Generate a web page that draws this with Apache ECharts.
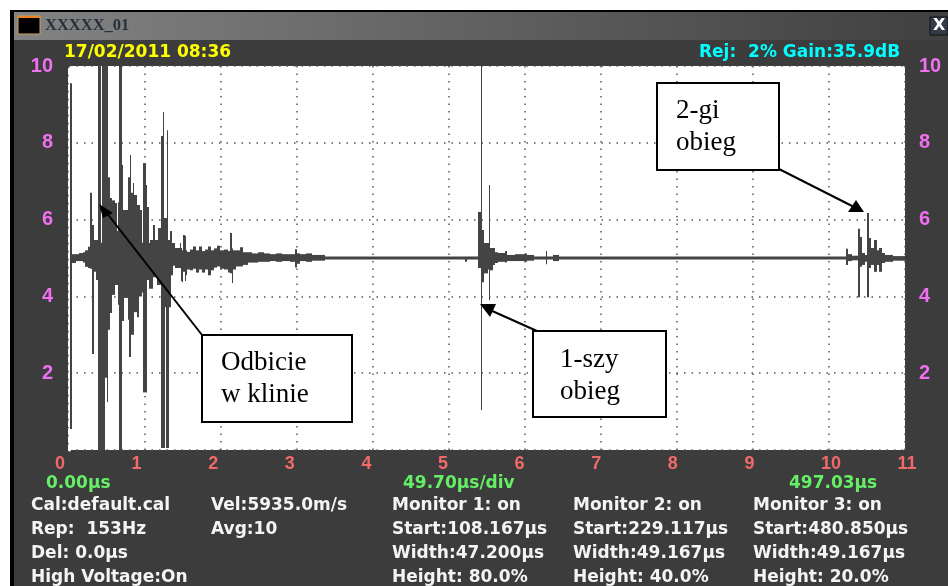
<!DOCTYPE html>
<html>
<head>
<meta charset="utf-8">
<title>XXXXX_01</title>
<script src="https://cdn.jsdelivr.net/npm/echarts@6/dist/echarts.min.js"></script>
<style>
    html, body { margin: 0; padding: 0; background: #fff; }
    #chart { width: 948px; height: 586px; }
</style>
</head>
<body>
<div id="chart"></div>
<script>
/* ========== 示波器波形 ========== */

// 每格 76 个采样，traceStart 是每一段的起始采样号
const samplesPerDiv = 76;
const traceEnd = 836;
const traceStart = [1, 3, 7, 10, 14, 16, 19, 21, 23, 25, 27, 29, 32, 33, 36, 38, 39, 41, 43, 46, 48, 49, 50, 53, 54, 55, 59, 60, 61, 62, 64, 65, 68, 70, 71, 73, 74, 77, 78, 80, 81, 84, 86, 88, 89, 92, 94, 95, 96, 97, 98, 99, 100, 101, 102, 103, 104, 106, 111, 112, 113, 114, 116, 117, 118, 121, 124, 127, 130, 133, 136, 139, 142, 145, 148, 151, 155, 159, 161, 163, 164, 167, 171, 174, 179, 183, 189, 195, 201, 207, 213, 221, 226, 228, 231, 237, 243, 256, 396, 398, 409, 412, 413, 415, 419, 420, 421, 424, 426, 429, 436, 438, 446, 456, 458, 465, 477, 478, 484, 490, 777, 779, 783, 789, 791, 793, 796, 798, 800, 802, 805, 808, 810, 813, 816, 824];
const traceHigh = [9.55, 5.1, 5.1, 5.13, 5.15, 5.2, 5.29, 6.7, 5.86, 5.47, 5.47, 10, 5.4, 10, 10, 10, 7.1, 6.56, 6.5, 6.43, 5.7, 6.45, 10, 7.42, 6.25, 6.25, 7.1, 7.1, 7.68, 6.7, 6.95, 6.64, 6.38, 6.38, 6.25, 5.4, 7.47, 6.9, 6.33, 5.39, 5.47, 5.86, 5.47, 5.47, 5.78, 8.18, 8.8, 6.04, 6.04, 6.04, 8.33, 5.47, 5.47, 5.7, 5.7, 5.39, 5.39, 5.26, 5.39, 5.26, 5.2, 5.6, 5.57, 5.2, 5.16, 5.22, 5.3, 5.2, 5.3, 5.18, 5.22, 5.3, 5.2, 5.25, 5.32, 5.2, 5.22, 5.18, 5.65, 5.25, 5.2, 5.2, 5.28, 5.15, 5.15, 5.12, 5.15, 5.12, 5.1, 5.12, 5.1, 5.1, 5.23, 5.12, 5.1, 5.12, 5.08, 5.04, 5.04, 5.04, 6.2, 10, 5.73, 5.39, 5.39, 6.9, 5.26, 5.26, 5.15, 5.13, 5.18, 5.08, 5.1, 5.12, 5.08, 5.04, 5.18, 5.04, 5.08, 5.04, 5.24, 5.1, 5.06, 5.76, 5.55, 5.13, 5.08, 6.17, 5.52, 5.26, 5.47, 5.2, 5.26, 5.13, 5.08, 5.05];
const traceLow = [0.55, 4.87, 4.92, 4.92, 4.88, 4.77, 4.74, 4.72, 2.5, 4.64, 4.43, 0, 0, 0, 1.88, 1.25, 3.13, 3.57, 4.04, 4.3, 4.3, 3.78, 0, 3.36, 3.36, 3.96, 3.39, 2.42, 2.42, 3.0, 3.0, 3.59, 3.46, 4.0, 4.0, 4.1, 1.5, 1.5, 4.43, 4.2, 4.2, 4.5, 4.5, 4.3, 4.3, 0.05, 0.05, 0.05, 3.72, 0.05, 0.05, 0.05, 3.72, 3.72, 4.55, 4.55, 4.8, 4.74, 4.74, 4.4, 4.37, 4.64, 4.4, 4.55, 4.7, 4.68, 4.72, 4.62, 4.7, 4.62, 4.7, 4.55, 4.68, 4.75, 4.78, 4.72, 4.7, 4.62, 4.6, 4.35, 4.7, 4.78, 4.78, 4.82, 4.88, 4.88, 4.9, 4.9, 4.92, 4.9, 4.92, 4.9, 4.75, 4.85, 4.92, 4.9, 4.93, 4.96, 4.9, 4.96, 4.74, 1.04, 4.37, 4.6, 4.7, 3.9, 4.68, 4.82, 4.87, 4.9, 4.88, 4.92, 4.92, 4.9, 4.93, 4.96, 4.84, 4.96, 4.92, 4.96, 4.82, 4.92, 4.94, 3.98, 4.77, 4.82, 4.9, 3.98, 4.74, 4.82, 4.64, 4.82, 4.64, 4.87, 4.9, 4.93];

const windowTitle = "XXXXX_01";
const dateText = "17/02/2011 08:36";
const gainText = "Rej:  2% Gain:35.9dB";
const rangeTexts = ["0.00µs", "49.70µs/div", "497.03µs"];
const column1 = ["Cal:default.cal", "Rep:  153Hz", "Del: 0.0µs", "High Voltage:On"];
const column2 = ["Vel:5935.0m/s", "Avg:10"];
const column3 = ["Monitor 1: on", "Start:108.167µs", "Width:47.200µs", "Height: 80.0%"];
const column4 = ["Monitor 2: on", "Start:229.117µs", "Width:49.167µs", "Height: 40.0%"];
const column5 = ["Monitor 3: on", "Start:480.850µs", "Width:49.167µs", "Height: 20.0%"];

const DARK = "#3c3c3c";
const TRACE = "#444444";
const SCOPE_FONT = "DejaVu Sans";
const TICK_FONT = "Liberation Sans";
const NOTE_FONT = "Liberation Serif";

const traceData = traceStart.map((s, i) => {
    const next = i + 1 < traceStart.length ? traceStart[i + 1] : traceEnd;
    return [s / samplesPerDiv, next / samplesPerDiv, traceHigh[i], traceLow[i]];
});

function renderSegment(params, api) {
    const a = api.coord([api.value(0), api.value(2)]);
    const b = api.coord([api.value(1), api.value(3)]);
    return {
        type: "rect",
        shape: { x: a[0], y: a[1], width: b[0] - a[0], height: b[1] - a[1] },
        style: { fill: TRACE },
    };
}

function scopeText(x, y, text, fill) {
    return {
        type: "text", x, y, z: 50,
        style: {
            text, fill,
            font: `bold 17px "${SCOPE_FONT}"`,
            textVerticalAlign: "middle",
        },
    };
}

function noteBox(x, y, w, h, lines, textX, firstBase) {
    const items = [{
        type: "rect", z: 60,
        shape: { x, y, width: w, height: h },
        style: { fill: "#fff", stroke: "#000", lineWidth: 2 },
    }];
    lines.forEach((line, i) => {
        items.push({
            type: "text", x: textX, y: firstBase + i * 32, z: 61,
            style: { text: line, fill: "#000", font: `27px "${NOTE_FONT}"`, textVerticalAlign: "bottom" },
        });
    });
    return items;
}

function noteArrow(from, to, head) {
    return [{
        type: "line", z: 59,
        shape: { x1: from[0], y1: from[1], x2: to[0], y2: to[1] },
        style: { stroke: "#000", lineWidth: 2 },
    }, {
        type: "polygon", z: 59,
        shape: { points: head },
        style: { fill: "#000" },
    }];
}

function columnTexts(x, lines) {
    return lines.map((line, i) => scopeText(x, 506 + i * 24, line, "#f4f4f4"));
}

const frame = [
    { type: "rect", z: -10, shape: { x: 10, y: 10, width: 938, height: 576 }, style: { fill: DARK } },
    { type: "rect", z: -9, shape: { x: 10, y: 10, width: 938, height: 2 }, style: { fill: "#000" } },
    { type: "rect", z: -9, shape: { x: 10, y: 10, width: 4, height: 576 }, style: { fill: "#000" } },
    {
        type: "rect", z: -9,
        shape: { x: 14, y: 12, width: 934, height: 28 },
        style: {
            fill: new echarts.graphic.LinearGradient(0, 0, 1, 0, [
                { offset: 0, color: "#838383" },
                { offset: 0.6, color: "#5a5a5a" },
                { offset: 1, color: "#404040" },
            ]),
        },
    },
    { type: "rect", z: 50, shape: { x: 18, y: 16, width: 22, height: 18 }, style: { fill: "#000", stroke: "#c9a060", lineWidth: 1 } },
    { type: "rect", z: 51, shape: { x: 18, y: 16, width: 22, height: 2 }, style: { fill: "#f08020" } },
    {
        type: "text", x: 45, y: 26, z: 50,
        style: { text: windowTitle, fill: "#28303c", font: `bold 16.5px "${NOTE_FONT}"`, textVerticalAlign: "middle" },
    },
    { type: "rect", z: 50, shape: { x: 930, y: 17, width: 18, height: 18 }, style: { fill: "#333a48", stroke: "#111", lineWidth: 1 } },
    {
        type: "text", x: 933, y: 26, z: 51,
        style: { text: "X", fill: "#fff", font: `bold 16px "${SCOPE_FONT}"`, textVerticalAlign: "middle" },
    },
];

const texts = [
    scopeText(64, 53, dateText, "#ffff00"),
    scopeText(699, 53, gainText, "#00ffff"),
    scopeText(46, 484, rangeTexts[0], "#66ee66"),
    scopeText(403, 484, rangeTexts[1], "#66ee66"),
    scopeText(789, 484, rangeTexts[2], "#66ee66"),
    ...columnTexts(31, column1),
    ...columnTexts(211, column2),
    ...columnTexts(392, column3),
    ...columnTexts(573, column4),
    ...columnTexts(753, column5),
];

const notes = [
    ...noteArrow([202, 335], [106, 212], [[99, 204], [113, 213], [103, 218]]),
    ...noteArrow([537, 331], [490, 310], [[480, 304], [496, 304], [490, 317]]),
    ...noteArrow([779, 169], [856, 208], [[864, 212], [848, 212], [856, 200]]),
    ...noteBox(202, 335, 150, 87, ["Odbicie", "w klinie"], 221, 376),
    ...noteBox(533, 331, 133, 86, ["1-szy", "obieg"], 560, 373),
    ...noteBox(657, 83, 122, 87, ["2-gi", "obieg"], 676, 124),
];

const yTickStyle = {
    color: "#f070f0",
    fontFamily: TICK_FONT,
    fontWeight: "bold",
    fontSize: 20,
    formatter: (v) => (v === 0 ? "" : v),
};

const chart = echarts.init(document.getElementById("chart"), null, { renderer: "canvas" });
chart.setOption({
    animation: false,
    backgroundColor: "#fff",
    grid: [
        { left: 69, right: 43, top: 66, bottom: 136, show: true, backgroundColor: "#fff", borderWidth: 0 },
        // 刻度文字的间距和网格不完全一样，单独放一个坐标系
        { left: 55, width: 842.6, top: 66, bottom: 136, show: false },
    ],
    xAxis: [
        {
            type: "value", gridIndex: 0, min: 0, max: 11, interval: 1,
            axisLine: { show: false }, axisTick: { show: false }, axisLabel: { show: false },
            splitLine: { show: true, lineStyle: { color: "#555", width: 1.5, type: [1.5, 6] } },
        },
        {
            type: "value", gridIndex: 1, min: 0, max: 11, interval: 1,
            axisLine: { show: false }, axisTick: { show: false },
            axisLabel: {
                color: "#f06a6a", fontFamily: TICK_FONT, fontWeight: "bold", fontSize: 18,
                align: "left", margin: 5,
            },
            splitLine: { show: false },
        },
    ],
    yAxis: [
        {
            type: "value", gridIndex: 0, position: "left", min: 0, max: 10, interval: 2,
            axisLine: { show: true, lineStyle: { color: "#fff", width: 3, type: [5, 3] } },
            axisTick: { show: false },
            axisLabel: { ...yTickStyle, margin: 16 },
            splitLine: { show: true, lineStyle: { color: "#555", width: 1.5, type: [1.5, 6] } },
        },
        {
            type: "value", gridIndex: 0, position: "right", min: 0, max: 10, interval: 2,
            axisLine: { show: false }, axisTick: { show: false },
            axisLabel: { ...yTickStyle, margin: 14 },
            splitLine: { show: false },
        },
        { type: "value", gridIndex: 1, min: 0, max: 10, show: false },
    ],
    series: [{
        type: "custom",
        xAxisIndex: 0,
        yAxisIndex: 0,
        renderItem: renderSegment,
        clip: true,
        encode: { x: [0, 1], y: [2, 3] },
        data: traceData,
    }],
    graphic: { elements: [...frame, ...texts, ...notes] },
});
</script>
</body>
</html>
